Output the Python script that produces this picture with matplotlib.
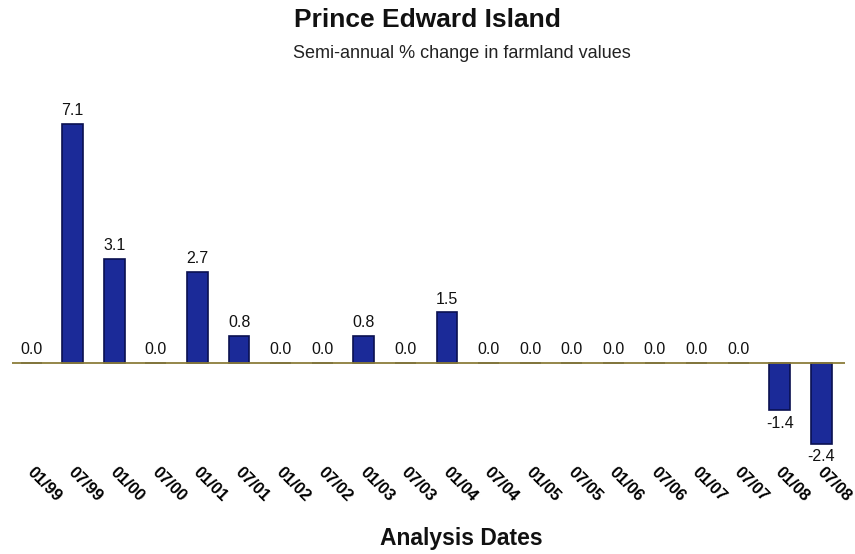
import matplotlib
matplotlib.use("Agg")
import matplotlib.pyplot as plt
import matplotlib.transforms as mtransforms

categories = ["01/99", "07/99", "01/00", "07/00", "01/01", "07/01", "01/02", "07/02",
              "01/03", "07/03", "01/04", "07/04", "01/05", "07/05", "01/06", "07/06",
              "01/07", "07/07", "01/08", "07/08"]
values = [0.0, 7.1, 3.1, 0.0, 2.7, 0.8, 0.0, 0.0, 0.8, 0.0, 1.5, 0.0,
          0.0, 0.0, 0.0, 0.0, 0.0, 0.0, -1.4, -2.4]

plt.rcParams['font.family'] = ['Liberation Sans', 'DejaVu Sans']

W, H = 855, 554
fig = plt.figure(figsize=(W / 100, H / 100), dpi=100)
fig.patch.set_facecolor('white')

left, right, top, bottom = 12, 845, 90, 452
ax = fig.add_axes([left / W, (H - bottom) / H, (right - left) / W, (bottom - top) / H])
ax.set_xlim(-0.46, 19.57)
ax.set_ylim(-2.64, 8.10)
for s in ax.spines.values():
    s.set_visible(False)
ax.set_yticks([])

x = list(range(len(categories)))
ax.bar(x, values, width=0.5, color='#1b2a98', edgecolor='#0a1050', linewidth=1.2, zorder=2)
ax.axhline(0, color='#8b7d3a', linewidth=1.3, zorder=3)

for xi, v in zip(x, values):
    if v >= 0:
        ax.annotate(f"{v:.1f}", (xi, v), xytext=(0, 4), textcoords='offset points',
                    ha='center', va='bottom', fontsize=11.5, color='#111111')
    else:
        ax.annotate(f"{v:.1f}", (xi, v), xytext=(0, -4), textcoords='offset points',
                    ha='center', va='top', fontsize=11.5, color='#111111')

ax.set_xticks(x)
ax.set_xticklabels(categories, rotation=-45, ha='left', va='top', fontsize=12, fontweight='bold')
ax.tick_params(axis='x', length=0, pad=9)
offset = mtransforms.ScaledTranslation(-7 / 100, 0, fig.dpi_scale_trans)
for lab in ax.get_xticklabels():
    lab.set_transform(lab.get_transform() + offset)

fig.text(427 / W, 1 - 20 / H, "Prince Edward Island", ha='center', va='center',
         fontsize=19, fontweight='bold', color='#111111')
fig.text(462 / W, 1 - 53 / H, "Semi-annual % change in farmland values", ha='center', va='center',
         fontsize=13, color='#222222', family=['Liberation Sans Narrow', 'Liberation Sans', 'DejaVu Sans'])
fig.text(461 / W, 1 - 539 / H, "Analysis Dates", ha='center', va='center',
         fontsize=16.5, fontweight='bold', color='#111111')

fig.savefig("out.png", dpi=100, facecolor='white')
